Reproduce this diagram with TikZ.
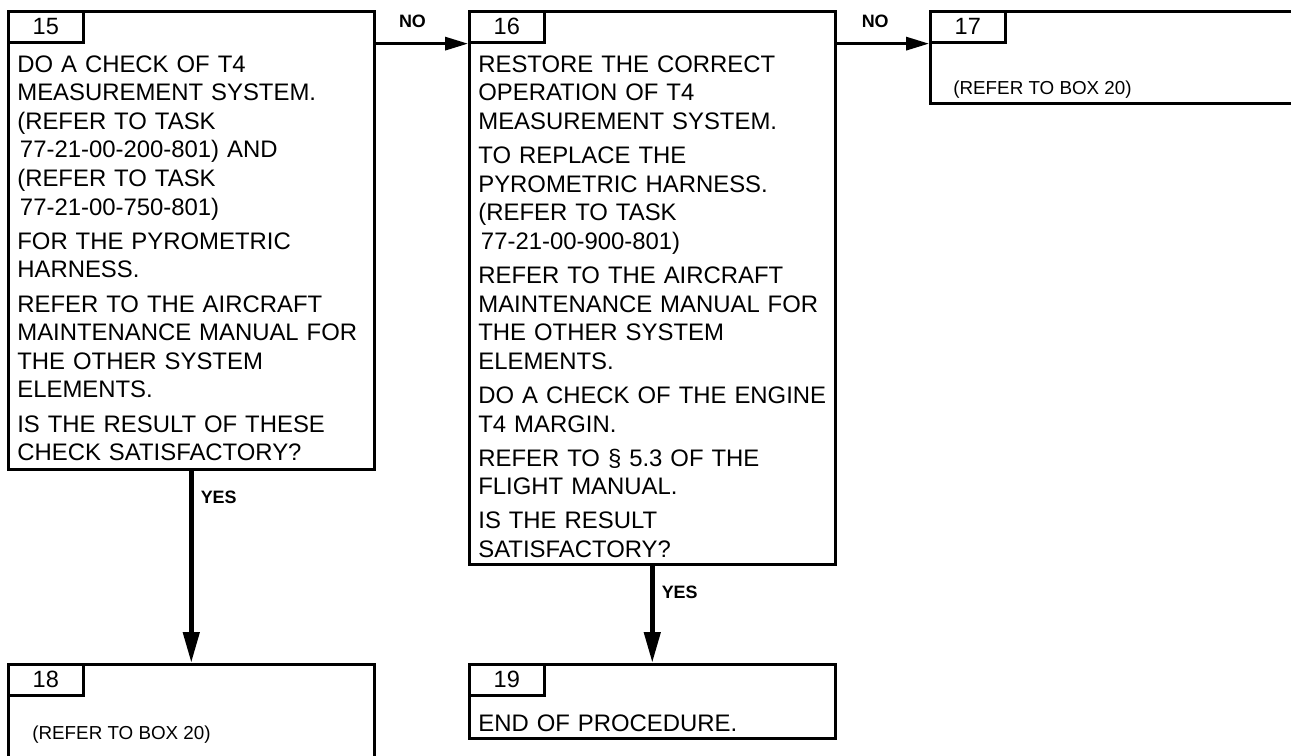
\documentclass[tikz,border=0pt]{standalone}
\usepackage{fontspec}
\setmainfont{Liberation Sans}
\usetikzlibrary{arrows.meta, positioning}

\begin{document}
\begin{tikzpicture}[x=0.02cm, y=-0.02cm,
  box/.style={draw, line width=1.5pt, anchor=north west, inner sep=0pt, minimum width=7.32cm},
  tab/.style={draw, line width=1.5pt, anchor=north west, inner sep=0pt, minimum width=1.5cm, minimum height=0.62cm, font=\fontsize{13.4}{15}\selectfont},
  txt/.style={anchor=north west, inner sep=0pt, text width=7.1cm, align=left, font=\fontsize{13.6}{16.3}\selectfont},
  small/.style={anchor=west, inner sep=0pt, font=\fontsize{10.7}{13}\selectfont},
  lbl/.style={inner sep=0pt, font=\fontsize{10.2}{12}\selectfont\bfseries},
  harr/.style={line width=1.7pt, -{Triangle[length=13pt, width=7.4pt]}},
  varr/.style={line width=2.8pt, -{Triangle[length=17.6pt, width=9pt]}}]

  \clip (0,0) rectangle (1291,755);

  % Boxes
  \node[box, minimum height=9.16cm] (b15) at (7,10) {};
  \node[box, minimum height=11.06cm] (b16) at (468,10) {};
  \node[box, minimum width=8cm, minimum height=1.84cm] (b17) at (929,10) {};
  \node[box, minimum height=3cm] (b18) at (7,663) {};
  \node[box, minimum height=1.48cm] (b19) at (468,663) {};

  % Box numbers
  \node[tab] (n15) at (b15.north west) {15};
  \node[tab] (n16) at (b16.north west) {16};
  \node[tab] (n17) at (b17.north west) {17};
  \node[tab] (n18) at (b18.north west) {18};
  \node[tab] (n19) at (b19.north west) {19};

  % Texts
  \node[txt] (t15) at (17,55) {DO A CHECK OF T4\\
    MEASUREMENT SYSTEM.\\
    (REFER TO TASK\\
    \hspace*{1.5pt}77-21-00-200-801) AND\\
    (REFER TO TASK\\
    \hspace*{1.5pt}77-21-00-750-801)\\[3.1pt]
    FOR THE PYROMETRIC\\
    HARNESS.\\[3.1pt]
    REFER TO THE AIRCRAFT\\
    MAINTENANCE MANUAL FOR\\
    THE OTHER SYSTEM\\
    ELEMENTS.\\[3.1pt]
    IS THE RESULT OF THESE\\
    CHECK SATISFACTORY?};
  \node[txt] (t16) at (478,55) {RESTORE THE CORRECT\\
    OPERATION OF T4\\
    MEASUREMENT SYSTEM.\\[3.1pt]
    TO REPLACE THE\\
    PYROMETRIC HARNESS.\\
    (REFER TO TASK\\
    \hspace*{1.5pt}77-21-00-900-801)\\[3.1pt]
    REFER TO THE AIRCRAFT\\
    MAINTENANCE MANUAL FOR\\
    THE OTHER SYSTEM\\
    ELEMENTS.\\[3.1pt]
    DO A CHECK OF THE ENGINE\\
    T4 MARGIN.\\[3.1pt]
    REFER TO § 5.3 OF THE\\
    FLIGHT MANUAL.\\[3.1pt]
    IS THE RESULT\\
    SATISFACTORY?};
  \node[small] (t17) at (953,90) {(REFER TO BOX 20)};
  \node[small] (t18) at (32,735) {(REFER TO BOX 20)};
  \node[txt] (t19) at (478,714) {END OF PROCEDURE.};

  % Connectors
  \draw[harr] (b15.east |- n15.south) -- (b16.west |- n16.south)
    node[lbl, pos=0, anchor=south west, xshift=12.5pt, yshift=8.5pt] (no15) {NO};
  \draw[harr] (b16.east |- n16.south) -- (b17.west |- n17.south)
    node[lbl, pos=0, anchor=south west, xshift=13.5pt, yshift=8.5pt] (no16) {NO};
  \draw[varr] (b15.south) -- (b18.north)
    node[lbl, pos=0, anchor=north west, xshift=4pt, yshift=-10pt] (yes15) {YES};
  \draw[varr] (b16.south) -- (b19.north)
    node[lbl, pos=0, anchor=north west, xshift=4pt, yshift=-10pt] (yes16) {YES};
\end{tikzpicture}
\end{document}
